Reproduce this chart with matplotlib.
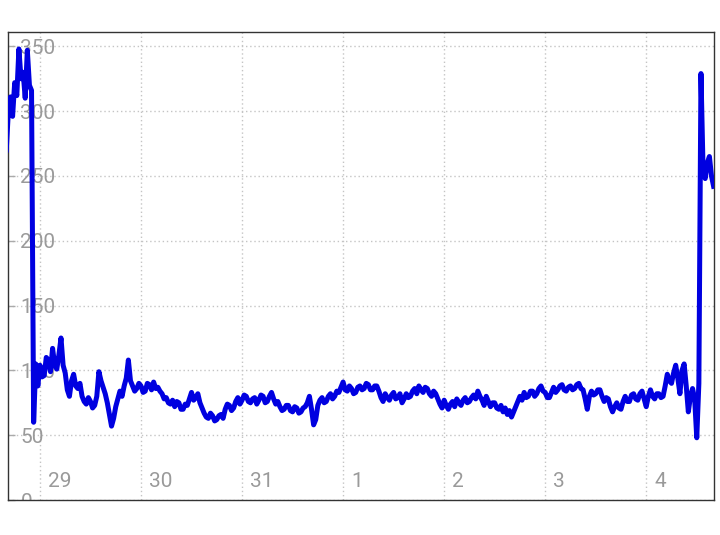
import numpy as np
import matplotlib
matplotlib.use('Agg')
import matplotlib.pyplot as plt
import matplotlib.transforms as mtransforms

plt.rcParams['font.family'] = ['Roboto', 'DejaVu Sans']

# half-hourly readings, first one at 16:00 on the 28th (hour -8 from the 29th)
start_hour = -8
values = [
    270, 300, 311, 296, 322, 312, 348, 325, 330, 310, 347, 320, 316, 60, 105, 88,
    # 29th
    104, 95, 96, 110, 108, 99, 117, 104, 101, 112, 125, 104, 98, 85, 80, 92,
    97, 88, 86, 90, 80, 76, 74, 79, 76, 71, 73, 80, 99, 92, 87, 82,
    75, 66, 57, 63, 72, 78, 84, 80, 88, 94, 108, 92, 88, 84, 86, 90,
    # 30th
    88, 83, 84, 90, 89, 85, 91, 86, 87, 84, 82, 78, 79, 75, 74, 77,
    72, 76, 75, 70, 70, 74, 73, 78, 83, 77, 79, 82, 75, 71, 67, 64,
    63, 67, 65, 61, 62, 65, 66, 63, 70, 74, 73, 69, 71, 76, 79, 74,
    # 31st
    77, 81, 80, 76, 75, 78, 79, 74, 77, 81, 80, 75, 76, 80, 83, 78,
    74, 76, 72, 69, 70, 73, 73, 69, 68, 72, 71, 67, 68, 71, 72, 75,
    80, 70, 58, 62, 73, 77, 79, 75, 76, 80, 82, 78, 80, 84, 83, 87,
    # 1st
    91, 85, 84, 88, 86, 82, 83, 87, 88, 85, 86, 90, 89, 85, 85, 88,
    88, 84, 79, 76, 82, 79, 77, 81, 83, 78, 79, 82, 75, 78, 82, 79,
    80, 84, 86, 82, 88, 85, 83, 87, 86, 82, 80, 84, 82, 78, 74, 71,
    # 2nd
    77, 73, 70, 74, 76, 72, 78, 75, 73, 77, 79, 75, 76, 79, 81, 78,
    84, 80, 77, 73, 80, 76, 72, 75, 75, 71, 70, 73, 68, 71, 66, 69,
    64, 68, 72, 76, 80, 77, 83, 79, 80, 84, 84, 80, 82, 86, 88, 84,
    # 3rd
    83, 79, 79, 83, 87, 83, 85, 88, 89, 85, 84, 87, 88, 85, 86, 89,
    90, 86, 85, 78, 70, 80, 84, 81, 82, 85, 85, 80, 76, 79, 78, 72,
    68, 72, 75, 71, 70, 76, 80, 76, 76, 81, 82, 78, 77, 82, 84, 78,
    # 4th
    72, 80, 85, 80, 78, 82, 82, 79, 80, 88, 97, 92, 90, 98, 104, 94,
    82, 100, 105, 88, 68, 80, 86, 78, 48, 90, 329, 255, 248, 260, 265, 250,
    242,
]
day_ticks = [0, 1, 2, 3, 4, 5, 6]
day_labels = ['29', '30', '31', '1', '2', '3', '4']
y_ticks = [0, 50, 100, 150, 200, 250, 300, 350]

days = (start_hour + 0.5 * np.arange(len(values))) / 24.0

fig = plt.figure(figsize=(7.2, 5.35), dpi=100)
ax = fig.add_axes([0.011, 0.0654, 0.981, 0.8746])

ax.plot(days, values, color='#0000e0', linewidth=3.6, zorder=3)

ax.set_xlim(-0.317, 6.673)
ax.set_ylim(0, 361)

ax.set_xticks(day_ticks)
ax.set_xticklabels(day_labels)
ax.set_yticks(y_ticks)
ax.set_yticklabels([str(v) for v in y_ticks])

ax.grid(True, color='#c4c4c4', linestyle=(0, (1, 2)), linewidth=1)

ax.tick_params(axis='y', direction='in', length=5, width=1, color='#aaaaaa',
               pad=-9, labelsize=15, labelcolor='#9a9a9a')
ax.tick_params(axis='x', direction='in', length=0, pad=-20, labelsize=15,
               labelcolor='#9a9a9a')
for lbl in ax.get_yticklabels():
    lbl.set_horizontalalignment('left')
    lbl.set_clip_box(ax.bbox)
    lbl.set_clip_on(True)

# x labels sit just right of their grid line
offset = mtransforms.ScaledTranslation(8 / 100, 0, fig.dpi_scale_trans)
for lbl in ax.get_xticklabels():
    lbl.set_horizontalalignment('left')
    lbl.set_transform(lbl.get_transform() + offset)

for s in ax.spines.values():
    s.set_color('#333333')
    s.set_linewidth(1)

fig.savefig('out.png', dpi=100)
